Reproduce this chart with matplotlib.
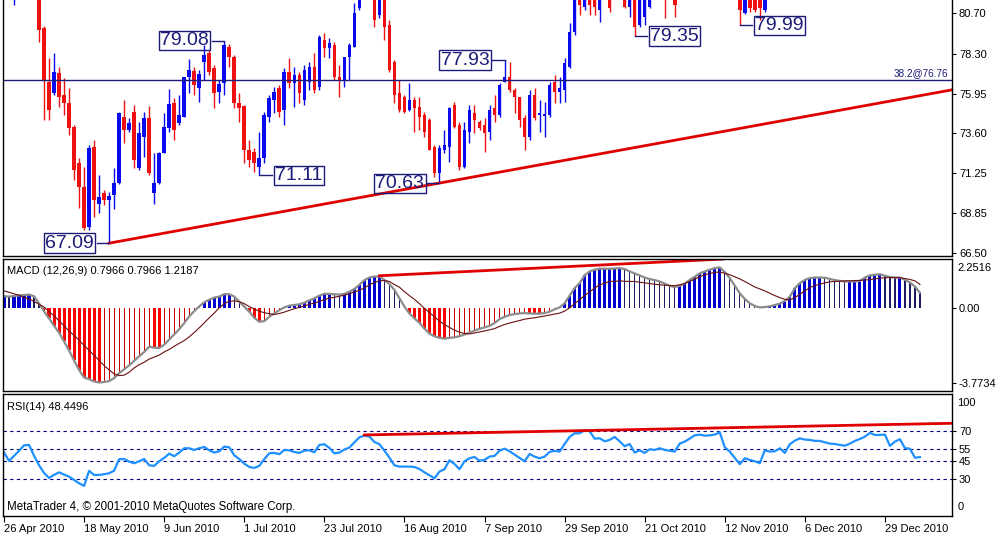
import numpy as np
import matplotlib.pyplot as plt
from matplotlib.transforms import blended_transform_factory

plt.rcParams['font.family'] = ['Liberation Sans', 'DejaVu Sans']

# ---- daily candles (26 Apr 2010 .. early Jan 2011) ----
opens = [82.60, 82.40, 82.00, 82.50, 82.80, 82.50, 82.20, 81.90, 79.83, 76.64,
         75.98, 77.17, 75.87, 75.39, 73.97, 71.84, 70.42, 68.05, 72.79, 69.41,
         70.06, 69.65, 69.95, 70.66, 74.56, 73.79, 74.86, 71.54, 73.38, 74.50,
         70.06, 70.66, 72.43, 73.91, 75.39, 74.21, 74.56, 76.93, 77.29, 76.28,
         77.82, 78.35, 77.46, 76.04, 76.58, 78.71, 78.12, 75.39, 75.21, 72.61,
         72.49, 71.60, 72.14, 74.56, 75.57, 76.28, 74.98, 77.23, 76.58, 77.05,
         75.57, 76.64, 77.52, 76.34, 79.12, 78.65, 78.83, 76.93, 76.75, 78.12,
         78.71, 81.02, 81.80, 82.30, 82.00, 80.60, 81.70, 80.01, 77.82, 75.98,
         75.75, 74.98, 75.57, 75.16, 74.68, 74.39, 72.79, 71.25, 72.61, 72.79,
         75.27, 74.09, 71.60, 73.67, 74.80, 74.27, 74.09, 73.67, 75.10, 74.68,
         76.64, 76.93, 76.16, 75.75, 74.50, 73.38, 75.87, 74.68, 74.62, 74.68,
         76.64, 76.04, 76.16, 77.52, 79.60, 81.80, 81.08, 82.20, 82.00, 80.90,
         81.90, 82.20, 81.90, 82.30, 82.00, 81.08, 81.80, 80.01, 80.48, 81.08,
         82.00, 82.30, 82.10, 81.60, 82.00, 81.80, 82.20, 82.60, 83.00, 83.40,
         83.70, 83.80, 84.10, 84.40, 84.20, 83.20, 82.60, 82.00, 80.72, 81.80,
         81.70, 81.60, 80.90, 81.80, 82.20, 82.40, 82.70, 83.10, 83.60, 84.00,
         84.20, 84.10, 84.20, 84.30, 84.10, 84.00, 83.90, 83.80, 83.70, 83.90,
         84.10, 84.30, 84.50, 84.80, 85.00, 84.90, 85.00, 84.40, 84.70, 84.90,
         84.30, 83.90, 84.00, 83.40]
highs = [82.90, 82.80, 82.80, 83.00, 83.10, 82.90, 82.50, 82.10, 79.95, 78.06,
         78.35, 77.52, 76.87, 76.28, 74.09, 72.14, 71.60, 72.91, 73.20, 71.13,
         70.24, 70.12, 71.54, 74.86, 75.57, 74.50, 75.27, 74.27, 74.86, 75.21,
         72.43, 72.49, 74.80, 76.22, 75.69, 75.87, 76.93, 78.00, 77.52, 77.35,
         78.83, 78.53, 77.64, 76.75, 79.08, 78.89, 78.23, 75.98, 75.27, 73.20,
         72.73, 73.67, 74.86, 75.87, 76.34, 76.46, 77.46, 78.06, 77.52, 77.23,
         77.64, 77.82, 78.35, 79.42, 79.54, 79.24, 79.00, 77.64, 78.12, 78.94,
         81.31, 82.10, 82.60, 82.70, 82.30, 82.00, 82.00, 80.31, 77.94, 76.75,
         75.87, 76.58, 75.75, 75.75, 74.86, 74.50, 72.91, 72.91, 73.79, 75.16,
         75.45, 74.27, 74.27, 75.27, 75.27, 74.39, 74.50, 75.27, 75.87, 76.58,
         77.93, 77.82, 76.28, 75.75, 74.68, 76.16, 76.28, 75.57, 75.45, 76.64,
         77.05, 76.93, 78.06, 80.13, 82.00, 82.10, 82.20, 82.50, 82.30, 82.20,
         82.40, 82.50, 82.60, 82.60, 82.30, 82.10, 82.00, 82.00, 82.10, 82.30,
         82.60, 82.70, 82.40, 82.30, 82.30, 82.40, 82.80, 83.20, 83.60, 83.90,
         84.10, 84.30, 84.60, 84.80, 84.40, 83.50, 82.90, 82.20, 82.10, 82.10,
         82.00, 81.90, 82.10, 82.40, 82.60, 82.90, 83.30, 83.80, 84.20, 84.40,
         84.50, 84.50, 84.60, 84.60, 84.40, 84.30, 84.20, 84.10, 84.10, 84.30,
         84.50, 84.70, 84.90, 85.20, 85.30, 85.30, 85.20, 84.90, 85.10, 85.00,
         84.50, 84.30, 84.10, 83.70]
lows = [82.20, 82.00, 81.19, 82.10, 82.30, 82.00, 81.70, 78.98, 74.39, 74.39,
        75.87, 75.16, 74.68, 73.50, 70.83, 69.18, 67.87, 67.87, 68.64, 68.88,
        69.35, 67.09, 69.12, 70.60, 73.02, 73.67, 71.54, 71.43, 72.20, 71.13,
        69.41, 70.60, 72.43, 73.67, 73.20, 74.09, 74.56, 75.98, 75.87, 75.45,
        76.75, 77.05, 75.10, 75.39, 75.87, 77.52, 75.10, 74.27, 71.84, 71.60,
        71.31, 71.11, 71.84, 74.27, 74.80, 74.56, 74.09, 76.28, 75.16, 75.39,
        75.27, 76.16, 75.98, 76.16, 78.12, 78.06, 76.75, 75.75, 76.34, 76.75,
        78.71, 80.90, 81.60, 81.70, 79.89, 80.42, 79.12, 77.23, 75.39, 74.86,
        74.80, 74.92, 73.67, 73.79, 73.38, 72.61, 71.01, 70.63, 72.43, 71.90,
        73.91, 71.43, 71.54, 73.02, 73.62, 73.79, 72.49, 73.20, 74.27, 74.56,
        76.64, 76.04, 74.80, 73.97, 72.61, 73.20, 74.39, 73.67, 73.38, 74.56,
        75.39, 75.39, 75.45, 77.46, 79.42, 80.60, 80.90, 80.60, 80.60, 80.19,
        81.60, 80.78, 81.60, 81.70, 81.02, 80.48, 79.35, 79.89, 80.01, 81.02,
        81.70, 81.80, 80.42, 81.55, 80.48, 81.60, 81.90, 82.30, 82.70, 83.00,
        83.30, 83.40, 83.70, 83.90, 83.00, 82.30, 81.70, 79.99, 80.66, 80.78,
        80.78, 80.31, 80.78, 81.60, 81.80, 82.00, 82.40, 82.80, 83.30, 83.60,
        83.80, 83.70, 83.80, 83.90, 83.70, 83.60, 83.50, 83.40, 83.40, 83.60,
        83.80, 84.00, 84.20, 84.50, 84.60, 84.60, 84.30, 84.10, 84.40, 84.10,
        83.70, 83.60, 83.20, 83.20]
closes = [82.40, 82.60, 82.50, 82.80, 82.50, 82.20, 81.90, 79.71, 76.75, 74.98,
          77.23, 75.75, 75.39, 73.91, 71.43, 70.42, 67.99, 72.73, 69.65, 69.83,
          69.65, 69.89, 70.66, 74.80, 73.79, 74.21, 72.02, 73.62, 74.50, 71.25,
          70.66, 72.43, 73.97, 75.33, 73.79, 74.68, 76.93, 77.35, 76.46, 77.11,
          78.23, 77.23, 75.98, 76.52, 78.83, 78.12, 75.39, 75.10, 72.61, 72.02,
          71.84, 72.14, 74.68, 75.69, 76.04, 74.86, 77.23, 76.58, 77.05, 75.98,
          77.35, 77.52, 76.16, 79.30, 78.65, 78.94, 76.93, 76.75, 78.12, 78.83,
          80.72, 81.80, 82.30, 82.00, 80.31, 81.70, 79.89, 77.35, 75.87, 74.98,
          74.86, 75.57, 75.10, 74.56, 73.67, 72.61, 71.25, 72.73, 72.91, 75.10,
          73.97, 71.60, 73.79, 74.98, 74.39, 73.91, 73.62, 74.98, 74.68, 76.46,
          76.93, 76.16, 75.75, 74.39, 73.38, 75.87, 74.50, 74.80, 74.74, 76.46,
          76.04, 76.28, 77.76, 79.60, 81.70, 81.19, 81.90, 81.19, 81.08, 81.90,
          82.20, 81.02, 82.30, 82.00, 81.08, 81.80, 79.89, 81.70, 81.80, 82.00,
          82.30, 82.10, 81.60, 82.00, 81.19, 82.20, 82.60, 83.00, 83.40, 83.70,
          83.80, 84.10, 84.40, 84.20, 83.20, 82.60, 82.00, 80.90, 81.80, 81.02,
          80.90, 81.02, 81.80, 82.20, 82.40, 82.70, 83.10, 83.60, 84.00, 84.20,
          84.10, 84.20, 84.30, 84.10, 84.00, 83.90, 83.80, 83.70, 83.90, 84.10,
          84.30, 84.50, 84.80, 85.00, 84.90, 85.00, 84.40, 84.70, 84.90, 84.30,
          83.90, 84.00, 83.40, 83.50]

# MACD (12,26,9): main (histogram + grey line) and signal
macd_main = [0.62, 0.60, 0.63, 0.66, 0.68, 0.70, 0.62, 0.25, -0.15, -0.51,
             -0.89, -1.23, -1.68, -2.14, -2.65, -3.13, -3.52, -3.60, -3.72, -3.7734,
             -3.75, -3.70, -3.55, -3.30, -3.10, -2.90, -2.67, -2.44, -2.22, -1.95,
             -2.00, -2.02, -1.85, -1.59, -1.33, -1.06, -0.75, -0.41, -0.14, 0.10,
             0.31, 0.44, 0.55, 0.60, 0.72, 0.72, 0.60, 0.34, 0.09, -0.17,
             -0.48, -0.68, -0.65, -0.43, -0.26, -0.09, 0.05, 0.14, 0.17, 0.21,
             0.29, 0.41, 0.51, 0.65, 0.74, 0.74, 0.72, 0.70, 0.74, 0.85,
             0.99, 1.20, 1.44, 1.57, 1.62, 1.62, 1.45, 1.23, 0.94, 0.51,
             0.09, -0.26, -0.51, -0.74, -1.03, -1.28, -1.42, -1.50, -1.54, -1.50,
             -1.47, -1.42, -1.33, -1.23, -1.13, -1.04, -0.97, -0.89, -0.75, -0.55,
             -0.43, -0.34, -0.29, -0.26, -0.24, -0.26, -0.27, -0.27, -0.24, -0.17,
             -0.05, 0.05, 0.26, 0.65, 1.03, 1.28, 1.68, 1.88, 1.97, 2.02,
             2.02, 2.02, 2.03, 2.05, 2.00, 1.88, 1.78, 1.68, 1.57, 1.49,
             1.44, 1.37, 1.26, 1.15, 1.08, 1.15, 1.26, 1.45, 1.61, 1.78,
             1.88, 1.97, 2.05, 2.09, 1.85, 1.54, 1.16, 0.77, 0.48, 0.26,
             0.12, 0.05, 0.07, 0.10, 0.17, 0.24, 0.38, 0.60, 1.03, 1.28,
             1.45, 1.54, 1.57, 1.57, 1.56, 1.50, 1.44, 1.40, 1.37, 1.37,
             1.37, 1.40, 1.57, 1.68, 1.71, 1.74, 1.66, 1.59, 1.57, 1.57,
             1.45, 1.32, 1.11, 0.7966]
macd_signal = [0.89, 0.82, 0.74, 0.67, 0.56, 0.48, 0.36, 0.21, 0.07, -0.17,
               -0.38, -0.63, -0.89, -1.15, -1.38, -1.62, -1.88, -2.14, -2.39, -2.65,
               -2.91, -3.13, -3.33, -3.42, -3.40, -3.25, -3.03, -2.87, -2.74, -2.58,
               -2.48, -2.38, -2.22, -2.09, -1.93, -1.78, -1.64, -1.45, -1.23, -0.99,
               -0.74, -0.48, -0.24, 0.03, 0.24, 0.36, 0.38, 0.34, 0.24, 0.09,
               -0.03, -0.14, -0.22, -0.27, -0.31, -0.26, -0.19, -0.10, -0.02, 0.05,
               0.12, 0.21, 0.27, 0.36, 0.44, 0.53, 0.56, 0.62, 0.67, 0.75,
               0.84, 0.92, 1.04, 1.20, 1.32, 1.40, 1.42, 1.37, 1.21, 1.08,
               0.85, 0.65, 0.46, 0.24, 0.00, -0.21, -0.43, -0.65, -0.82, -0.97,
               -1.11, -1.21, -1.28, -1.30, -1.25, -1.20, -1.15, -1.09, -1.03, -0.92,
               -0.82, -0.75, -0.68, -0.62, -0.55, -0.51, -0.48, -0.43, -0.39, -0.34,
               -0.29, -0.24, -0.14, 0.03, 0.24, 0.44, 0.65, 0.84, 1.03, 1.20,
               1.28, 1.37, 1.38, 1.40, 1.38, 1.37, 1.37, 1.33, 1.30, 1.26,
               1.23, 1.20, 1.18, 1.16, 1.16, 1.20, 1.26, 1.37, 1.49, 1.61,
               1.71, 1.78, 1.83, 1.85, 1.79, 1.71, 1.61, 1.50, 1.37, 1.23,
               1.09, 0.99, 0.89, 0.77, 0.65, 0.55, 0.46, 0.43, 0.55, 0.72,
               0.89, 1.06, 1.16, 1.23, 1.30, 1.35, 1.37, 1.38, 1.40, 1.40,
               1.42, 1.42, 1.44, 1.47, 1.50, 1.54, 1.56, 1.57, 1.57, 1.56,
               1.52, 1.47, 1.40, 1.2187]

# RSI(14)
rsi14 = [52.5, 45.3, 49.5, 53.7, 58.4, 58.7, 49.7, 41.6, 35.2, 31.0,
         33.5, 35.7, 33.8, 32.1, 29.3, 26.5, 24.3, 36.9, 33.5, 33.5,
         34.1, 34.9, 37.1, 46.7, 46.9, 44.7, 43.3, 45.0, 46.9, 41.6,
         41.1, 45.0, 47.8, 51.4, 49.2, 52.3, 55.9, 55.9, 54.5, 55.9,
         57.0, 54.2, 52.3, 53.4, 57.3, 56.7, 50.0, 46.9, 43.0, 40.2,
         39.4, 41.1, 46.7, 51.7, 52.0, 50.9, 54.5, 54.2, 52.8, 52.0,
         53.9, 54.2, 52.5, 58.7, 59.3, 56.2, 51.7, 52.3, 54.8, 56.5,
         60.9, 65.1, 66.5, 65.7, 61.2, 59.3, 53.9, 48.1, 41.6, 40.5,
         40.5, 40.5, 40.2, 38.5, 35.7, 33.2, 30.7, 36.3, 38.3, 45.8,
         42.7, 38.3, 45.0, 47.5, 48.6, 45.5, 46.1, 48.9, 49.5, 53.9,
         55.6, 53.4, 50.6, 47.8, 45.0, 51.1, 48.9, 47.5, 48.9, 52.8,
         53.7, 53.1, 59.5, 65.4, 68.5, 68.5, 71.0, 70.2, 64.0, 64.3,
         61.8, 62.9, 65.4, 61.8, 57.6, 59.5, 52.3, 54.2, 52.0, 55.1,
         54.5, 55.9, 54.5, 53.9, 53.1, 59.8, 61.5, 64.0, 66.8, 67.4,
         66.5, 66.8, 67.4, 69.3, 56.7, 53.1, 47.8, 42.5, 47.5, 46.1,
         45.0, 43.3, 54.2, 53.1, 53.4, 55.9, 52.0, 59.3, 62.3, 64.3,
         63.2, 62.9, 62.1, 62.1, 60.9, 59.8, 59.5, 58.7, 58.1, 59.8,
         62.1, 63.7, 65.7, 68.8, 67.1, 67.1, 67.4, 57.9, 61.5, 63.5,
         56.0, 55.5, 48.0, 48.4496]

date_ticks = [0, 16, 32, 48, 64, 80, 96, 112, 128, 144, 160, 176]
date_labels = ['26 Apr 2010', '18 May 2010', '9 Jun 2010', '1 Jul 2010', '23 Jul 2010',
               '16 Aug 2010', '7 Sep 2010', '29 Sep 2010', '21 Oct 2010', '12 Nov 2010',
               '6 Dec 2010', '29 Dec 2010']
price_ticks = [80.70, 78.30, 75.95, 73.60, 71.25, 68.85, 66.50]

# swing high/low price tags (bar, price, side of the tag)
swing_bars = [21, 44, 51, 87, 100, 126, 147]
swing_prices = [67.09, 79.08, 71.11, 70.63, 77.93, 79.35, 79.99]
swing_side = [-1, -1, 1, -1, -1, 1, 1]

fib_level = 76.76
trend_main = ([21, 189.4], [67.09, 76.17])
trend_macd = ([75, 143.6], [1.66, 2.51])
trend_rsi = ([72, 189.4], [67.1, 76.9])
rsi_levels = [70, 55, 45, 30]

BLUE = '#0a0aee'
RED = '#ee1111'
NAVY = '#1c1c78'

W, H = 1001, 538
fig = plt.figure(figsize=(W / 100, H / 100), dpi=100)
fig.patch.set_facecolor('white')


def panel(top, bottom):
    return fig.add_axes([3 / W, 1 - bottom / H, 949 / W, (bottom - top) / H])


ax = panel(0, 256)
axm = panel(259, 391)
axr = panel(394, 516)

x = np.arange(len(closes))
o = np.array(opens)
c = np.array(closes)
col = np.where(c >= o, BLUE, RED)

# candles
ax.vlines(x, lows, highs, colors=col, lw=1.0)
ax.bar(x, np.maximum(np.abs(c - o), 0.05), bottom=np.minimum(o, c), width=0.72,
       color=col, linewidth=0)

ax.axhline(fib_level, color=NAVY, lw=1)
ax.text(188.6, fib_level + 0.12, '38.2@76.76', ha='right', va='bottom',
        fontsize=7.2, color=NAVY)
ax.plot(trend_main[0], trend_main[1], color='#e00000', lw=2)

for b, p, s in zip(swing_bars, swing_prices, swing_side):
    ax.plot([b, b + s * 2.5], [p, p], color=NAVY, lw=1)
    ax.text(b + s * 7.9, p, f'{p:.2f}', ha='center', va='center', fontsize=14,
            color=NAVY, bbox=dict(boxstyle='square,pad=0.06', fc='none', ec=NAVY, lw=1))

ax.set_ylim(66.33, 81.49)
ax.set_yticks(price_ticks)
ax.set_yticklabels([f'{v:.2f}' for v in price_ticks])

# MACD histogram: thick while growing away from zero, thin while shrinking
m = np.array(macd_main)
prev = np.concatenate([[m[0]], m[:-1]])
grow = np.abs(m) >= np.abs(prev)
axm.bar(x[grow], m[grow], width=0.62, linewidth=0,
        color=np.where(m[grow] >= 0, '#0000d0', '#ff0000'))
axm.bar(x[~grow], m[~grow], width=0.24, linewidth=0,
        color=np.where(m[~grow] >= 0, '#1c1c66', '#c80000'))
axm.plot(x, m, color='#8c8c8c', lw=1.6)
axm.plot(x, macd_signal, color='#6b1010', lw=0.8)
axm.plot(trend_macd[0], trend_macd[1], color='#e00000', lw=2)
axm.set_ylim(-4.205, 2.513)
axm.set_yticks([0, -3.7734])
axm.set_yticklabels(['0.00', '-3.7734'])
bt = blended_transform_factory(axm.transAxes, axm.transData)
axm.text(1.0055, 2.05, '2.2516', transform=bt, va='center', ha='left', fontsize=8)
axm.text(0.0042, 0.909, 'MACD (12,26,9) 0.7966 0.7966 1.2187', transform=axm.transAxes,
         va='center', ha='left', fontsize=8)

# RSI
for lv in rsi_levels:
    axr.axhline(lv, color='#000080', lw=0.8, ls=(0, (3, 3)))
axr.plot(x, rsi14, color='#1e90ff', lw=1.6)
axr.plot(trend_rsi[0], trend_rsi[1], color='#e00000', lw=2)
axr.set_ylim(-1, 101.5)
axr.set_yticks(rsi_levels)
axr.set_yticklabels([str(v) for v in rsi_levels])
bt = blended_transform_factory(axr.transAxes, axr.transData)
axr.text(1.0055, 93.7, '100', transform=bt, va='center', ha='left', fontsize=8)
axr.text(1.0055, 6.3, '0', transform=bt, va='center', ha='left', fontsize=8)
axr.text(0.0042, 0.896, 'RSI(14) 48.4496', transform=axr.transAxes,
         va='center', ha='left', fontsize=8)
axr.text(0.0042, 0.076, 'MetaTrader 4, \u00a9 2001-2010 MetaQuotes Software Corp.',
         transform=axr.transAxes, va='center', ha='left', fontsize=8.3)

for a in (ax, axm, axr):
    a.set_xlim(-0.2, 189.4)
    a.set_facecolor('white')
    a.yaxis.tick_right()
    a.tick_params(axis='y', direction='out', length=3, width=0.8, pad=2, labelsize=8)
    for sp in a.spines.values():
        sp.set_linewidth(1)
        sp.set_color('black')
ax.spines['top'].set_visible(False)
ax.set_xticks([])
axm.set_xticks([])
axr.set_xticks(date_ticks)
axr.set_xticklabels(date_labels, ha='left')
axr.tick_params(axis='x', direction='out', length=4, width=0.8, pad=1.5, labelsize=8)

fig.savefig('out.png', dpi=100)
